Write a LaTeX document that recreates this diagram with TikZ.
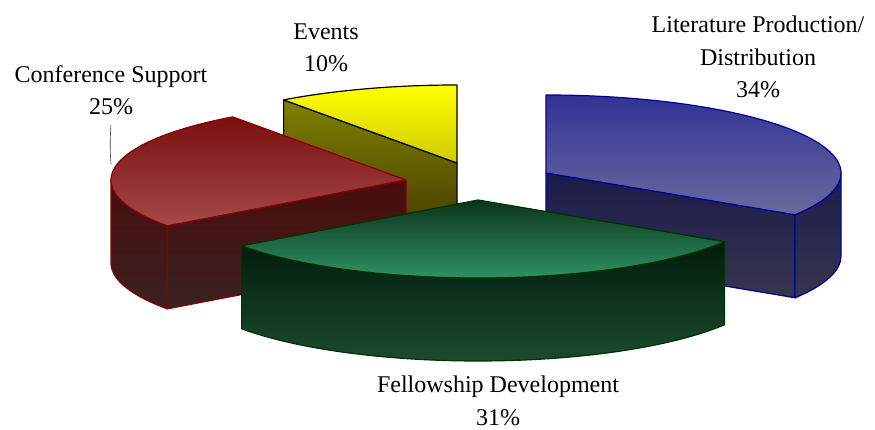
\documentclass[tikz,border=0pt]{standalone}
\usepackage{fontspec}
\setmainfont{Liberation Serif}
\usetikzlibrary{calc}
\definecolor{redline}{HTML}{8B0000}
\definecolor{redtopA}{HTML}{7A0E0E}
\definecolor{redtopB}{HTML}{A54A4A}
\definecolor{redsideA}{HTML}{4A0C0C}
\definecolor{redsideB}{HTML}{3A2222}
\definecolor{yeltopA}{HTML}{FFFF00}
\definecolor{yeltopB}{HTML}{CFCB00}
\definecolor{yelsideA}{HTML}{808000}
\definecolor{yelsideB}{HTML}{3E3600}
\definecolor{blueline}{HTML}{000099}
\definecolor{bluetopA}{HTML}{323296}
\definecolor{bluetopB}{HTML}{6A6A9E}
\definecolor{bluesideA}{HTML}{1B1B4A}
\definecolor{bluesideB}{HTML}{36364F}
\definecolor{greenline}{HTML}{003300}
\definecolor{greentopA}{HTML}{0C351B}
\definecolor{greentopB}{HTML}{2F9566}
\definecolor{greensideA}{HTML}{021C0A}
\definecolor{greensideB}{HTML}{1C4B32}
\tikzset{
  face/.style n args={3}{draw=#1, line width=1.2pt, line join=round, top color=#2, bottom color=#3},
  rim/.style={x radius=295pt, y radius=78pt},
  lbl/.style={align=center, font=\fontsize{24}{32.5}\selectfont, inner sep=0pt},
  leader/.style={draw=black!75, line width=0.6pt}
}
\begin{document}
\begin{tikzpicture}[x=1pt,y=1pt]
  \useasboundingbox (0,0) rectangle (875,430);
  \coordinate (yc) at (457,267);
  \coordinate (bc) at (546,257);
  \coordinate (rc) at (406,250);
  \coordinate (gc) at (478,230);

  % events
  \path[face={black}{yelsideA}{yelsideB}] (yc) -- ++(126:295pt and 78pt) -- ++(0,-83) -- ($(yc)+(0,-83)$) -- cycle;
  \path[face={black}{yeltopA}{yeltopB}] (yc) -- ++(126:295pt and 78pt) arc[rim,start angle=126,end angle=90] -- cycle;

  % literature
  \path[face={blueline}{bluesideA}{bluesideB}] (bc) -- ++(-32.4:295pt and 78pt) -- ++(0,-83) -- ($(bc)+(0,-83)$) -- cycle;
  \path[face={blueline}{bluesideA}{bluesideB}] ($(bc)+(0:295pt and 78pt)$) arc[rim,start angle=0,end angle=-32.4] -- ++(0,-83) arc[rim,start angle=-32.4,end angle=0] -- cycle;
  \path[face={blueline}{bluetopA}{bluetopB}] (bc) -- ++(-32.4:295pt and 78pt) arc[rim,start angle=-32.4,end angle=90] -- cycle;

  % conference
  \path[face={redline}{redsideA}{redsideB}] (rc) -- ++(216:295pt and 78pt) -- ++(0,-83) -- ($(rc)+(0,-83)$) -- cycle;
  \path[face={redline}{redsideA}{redsideB}] ($(rc)+(180:295pt and 78pt)$) arc[rim,start angle=180,end angle=216] -- ++(0,-83) arc[rim,start angle=216,end angle=180] -- cycle;
  \path[face={redline}{redtopA}{redtopB}] (rc) -- ++(126:295pt and 78pt) arc[rim,start angle=126,end angle=216] -- cycle;

  % fellowship
  \path[face={greenline}{greensideA}{greensideB}] ($(gc)+(216:292pt and 78pt)$) arc[rim,x radius=292pt,start angle=216,end angle=327.6] -- ++(0,-83) arc[rim,x radius=292pt,start angle=327.6,end angle=216] -- cycle;
  \path[face={greenline}{greentopA}{greentopB}] (gc) -- ++(216:292pt and 78pt) arc[rim,x radius=292pt,start angle=216,end angle=327.6] -- cycle;

  % labels
  \node[lbl] (events) at (326,382) {Events\\10\%};
  \node[lbl] (conf) at (111,340) {Conference Support\\25\%};
  \node[lbl] (lit) at (758,373) {Literature Production/\\Distribution\\34\%};
  \node[lbl] (fellow) at (498,29) {Fellowship Development\\31\%};

  \coordinate (confrim) at (111,266);
  \draw[leader] ([yshift=-10pt]conf.south) to[bend right=4] (confrim);
\end{tikzpicture}
\end{document}
